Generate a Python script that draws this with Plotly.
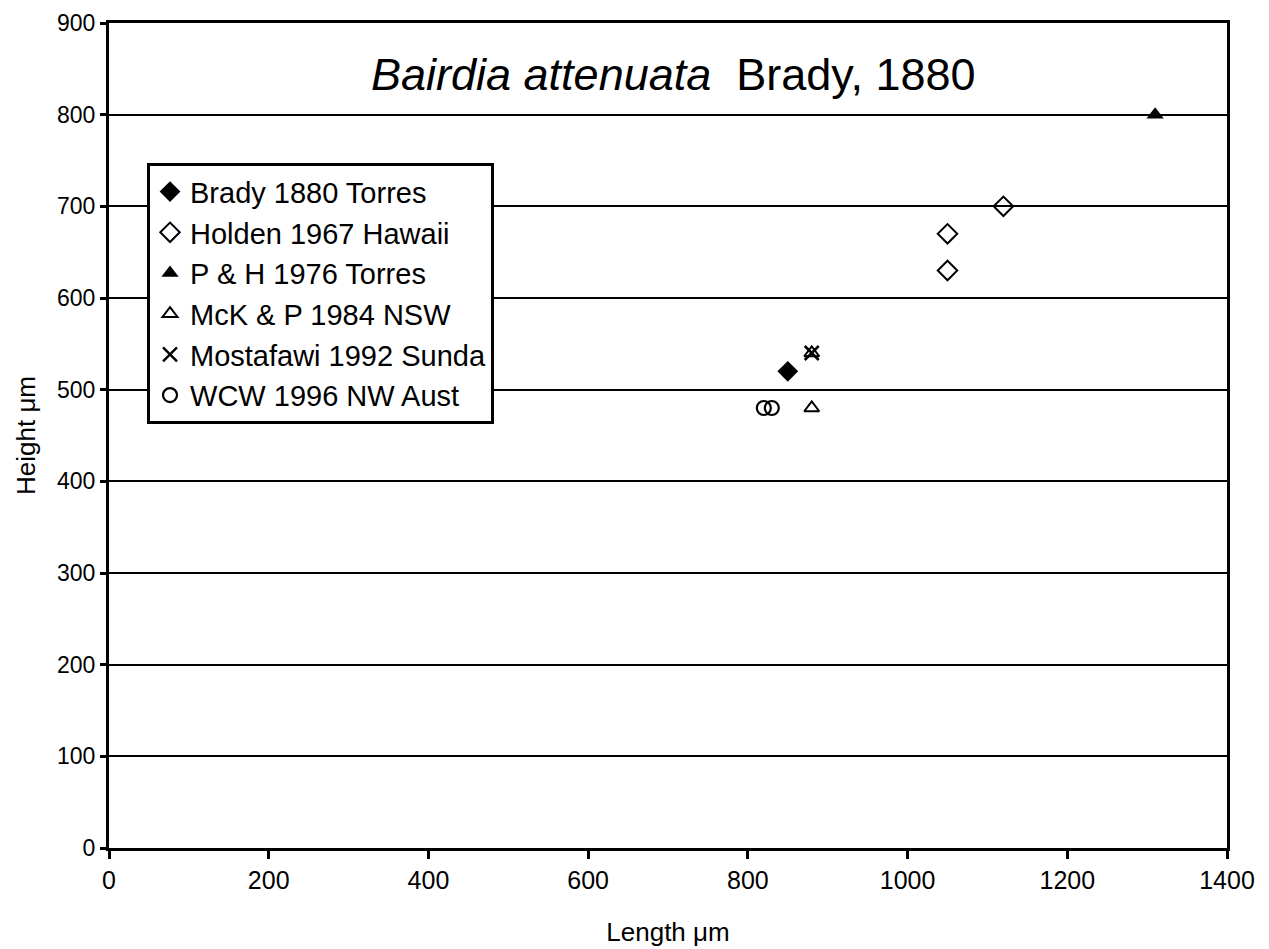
import plotly.graph_objects as go

# Data (Length µm, Height µm)
brady_x = [850]
brady_y = [520]
holden_x = [1050, 1050, 1120]
holden_y = [670, 630, 700]
ph_x = [1310]
ph_y = [800]
mckp_x = [880, 880]
mckp_y = [540, 480]
most_x = [880]
most_y = [540]
wcw_x = [820, 830]
wcw_y = [480, 480]

x_ticks = [0, 200, 400, 600, 800, 1000, 1200, 1400]
y_ticks = [0, 100, 200, 300, 400, 500, 600, 700, 800, 900]

FONT = "Liberation Sans, Arial, sans-serif"

series = [
    ("Brady 1880 Torres", brady_x, brady_y, "diamond", 16, "black", 0),
    ("Holden 1967 Hawaii", holden_x, holden_y, "diamond-open", 15, "black", 2),
    ("P & H 1976 Torres", ph_x, ph_y, "triangle-up", 15, "black", 0),
    ("McK & P 1984 NSW", mckp_x, mckp_y, "triangle-up-open", 13, "black", 2),
    ("Mostafawi 1992 Sunda", most_x, most_y, "x-thin-open", 14, "black", 2.5),
    ("WCW 1996 NW Aust", wcw_x, wcw_y, "circle-open", 14, "black", 2.2),
]

fig = go.Figure()
for i, (name, xs, ys, sym, size, col, lw) in enumerate(series):
    fig.add_trace(go.Scatter(
        x=xs, y=ys, mode="markers", name=name, legendgroup=str(i),
        marker=dict(symbol=sym, size=size, color=col,
                    line=dict(color=col, width=lw)),
    ))

fig.add_annotation(
    x=0.505, y=0.937, xref="paper", yref="paper",
    text="<i>Bairdia attenuata</i>  Brady, 1880",
    showarrow=False, font=dict(family=FONT, size=45, color="black"),
    xanchor="center", yanchor="middle",
)

fig.update_layout(
    width=1269, height=949,
    margin=dict(l=101, r=50, t=15, b=109, autoexpand=False),
    paper_bgcolor="white", plot_bgcolor="white",
    font=dict(family=FONT, size=24, color="black"),
    showlegend=True,
    legend=dict(
        x=0.034, y=0.83, xanchor="left", yanchor="top",
        bgcolor="white", bordercolor="black", borderwidth=3,
        font=dict(family=FONT, size=29, color="black"),
        tracegroupgap=0, traceorder="grouped",
    ),
    xaxis=dict(
        range=[0, 1400], tickvals=x_ticks, ticktext=[str(v) for v in x_ticks],
        showgrid=False, zeroline=False, automargin=False,
        ticklabeloverflow="allow",
        showline=True, linecolor="black", linewidth=3, mirror=True,
        ticks="outside", ticklen=8, tickwidth=3, tickcolor="black",
        tickfont=dict(size=25),
        title=dict(text="Length μm", font=dict(size=26), standoff=30),
    ),
    yaxis=dict(
        range=[0, 900], tickvals=y_ticks, ticktext=[str(v) for v in y_ticks],
        showgrid=True, gridcolor="black", gridwidth=2, zeroline=False,
        automargin=False, ticklabeloverflow="allow",
        showline=True, linecolor="black", linewidth=3, mirror=True,
        ticks="outside", ticklen=6, tickwidth=3, tickcolor="black",
        tickfont=dict(size=23),
        title=dict(text="Height μm", font=dict(size=26), standoff=14),
    ),
)

fig.write_html("out.html")
